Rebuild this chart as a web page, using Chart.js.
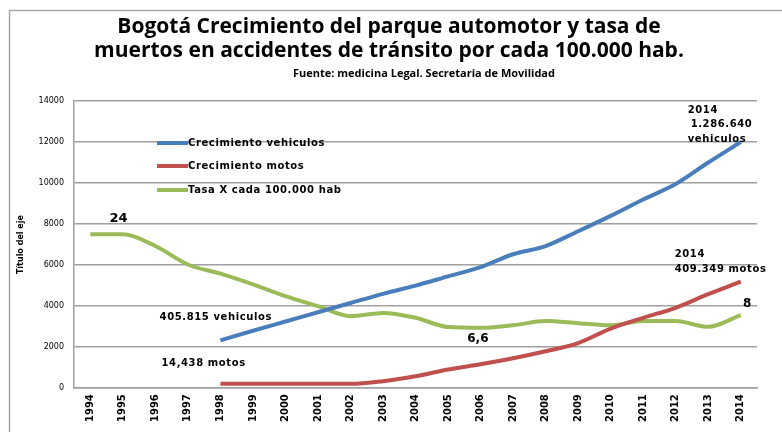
<!DOCTYPE html>
<html>
<head>
<meta charset="utf-8">
<script src="https://cdn.jsdelivr.net/npm/chart.js@4"></script>
<style>
  html, body { margin: 0; padding: 0; background: #fff; }
  #wrap { width: 782px; height: 432px; }
</style>
</head>
<body>
<div id="wrap"><canvas id="chart" width="782" height="432"></canvas></div>
<script>
  // datos
  var years = ['1994', '1995', '1996', '1997', '1998', '1999', '2000', '2001', '2002', '2003', '2004',
    '2005', '2006', '2007', '2008', '2009', '2010', '2011', '2012', '2013', '2014'];

  var vehiculos = [null, null, null, null, 2330, 2800, 3250, 3700, 4150, 4600, 5000,
    5450, 5900, 6530, 6930, 7650, 8400, 9200, 9950, 11000, 12000];

  var motos = [null, null, null, null, 210, 210, 210, 210, 210, 340, 580,
    910, 1170, 1460, 1800, 2200, 2900, 3430, 3920, 4580, 5190];

  var tasa = [7500, 7500, 6930, 6030, 5580, 5060, 4490, 4000, 3510, 3670, 3430,
    2980, 2940, 3070, 3270, 3170, 3070, 3270, 3270, 2990, 3560];

  var seriesNames = ['Crecimiento vehiculos', 'Crecimiento motos', 'Tasa X cada 100.000 hab'];
  var seriesColors = ['#4a7ebb', '#c0504d', '#9bbb59'];

  var yTicks = [0, 2000, 4000, 6000, 8000, 10000, 12000, 14000];

  var titleLines = ['Bogotá Crecimiento del parque automotor y tasa de',
    'muertos en accidentes de tránsito por cada 100.000 hab.'];
  var subtitle = 'Fuente: medicina Legal. Secretaria de Movilidad';

  // notas sobre el grafico: [texto, posicion en años desde 1994, valor de anclaje, tamaño]
  var notes = [
    ['24', 0.59, 8250, 13],
    ['405.815 vehiculos', 2.13, 3460, 10],
    ['14,438 motos', 2.19, 1220, 10],
    ['6,6', 11.59, 2390, 12],
    ['8', 20.07, 4100, 12],
    ['2014', 18.37, 13560, 10],
    ['1.286.640', 18.46, 12880, 10],
    ['vehiculos', 18.37, 12150, 10],
    ['2014', 17.97, 6540, 10],
    ['409.349 motos', 17.97, 5800, 10]
  ];

  var framePlugin = {
    id: 'frame',
    beforeDraw: function (chart) {
      var ctx = chart.ctx;
      ctx.save();
      ctx.fillStyle = '#ffffff';
      ctx.fillRect(0, 0, chart.width, chart.height);
      ctx.strokeStyle = '#a6a6a6';
      ctx.lineWidth = 1.5;
      ctx.strokeRect(9.5, 10.5, chart.width + 20, chart.height + 20);

      // titulo y fuente
      ctx.fillStyle = '#000';
      ctx.textAlign = 'center';
      ctx.textBaseline = 'alphabetic';
      ctx.font = 'bold 21px "Open Sans"';
      ctx.fillText(titleLines[0], 389, 33);
      ctx.fillText(titleLines[1], 389, 57);
      ctx.font = 'bold 11px "Open Sans"';
      ctx.fillText(subtitle, 424, 77);
      ctx.restore();
    }
  };

  var insideLegend = {
    id: 'insideLegend',
    afterDatasetsDraw: function (chart) {
      var ctx = chart.ctx;
      var rows = [143, 166, 190];
      ctx.save();
      ctx.font = 'bold 10px "DejaVu Sans"';
      ctx.letterSpacing = '0.6px';
      ctx.textBaseline = 'middle';
      ctx.fillStyle = '#000';
      seriesNames.forEach(function (name, i) {
        ctx.strokeStyle = seriesColors[i];
        ctx.lineWidth = 4;
        ctx.beginPath();
        ctx.moveTo(157, rows[i]);
        ctx.lineTo(188, rows[i]);
        ctx.stroke();
        ctx.fillText(name, 188, rows[i]);
      });
      ctx.restore();
    }
  };

  var notesPlugin = {
    id: 'notes',
    afterDatasetsDraw: function (chart) {
      var ctx = chart.ctx;
      var xs = chart.scales.x;
      var ys = chart.scales.y;
      var step = xs.getPixelForValue(1) - xs.getPixelForValue(0);
      ctx.save();
      ctx.fillStyle = '#000';
      ctx.textBaseline = 'middle';
      ctx.textAlign = 'left';
      notes.forEach(function (n) {
        var x = xs.getPixelForValue(0) + step * n[1];
        ctx.font = 'bold ' + n[3] + 'px "DejaVu Sans"';
        ctx.letterSpacing = n[3] === 10 ? '0.6px' : '0px';
        ctx.fillText(n[0], x, ys.getPixelForValue(n[2]));
      });
      ctx.restore();
    }
  };

  function line(label, data, color) {
    return {
      label: label,
      data: data,
      borderColor: color,
      backgroundColor: color,
      borderWidth: 4,
      pointRadius: 0,
      cubicInterpolationMode: 'monotone',
      fill: false
    };
  }

  new Chart(document.getElementById('chart'), {
    type: 'line',
    data: {
      labels: years,
      datasets: [
        line(seriesNames[0], vehiculos, seriesColors[0]),
        line(seriesNames[1], motos, seriesColors[1]),
        line(seriesNames[2], tasa, seriesColors[2])
      ]
    },
    options: {
      responsive: false,
      animation: false,
      layout: { padding: { left: 11, right: 25, top: 101, bottom: 4 } },
      plugins: {
        legend: { display: false },
        tooltip: { enabled: false },
        title: { display: false }
      },
      scales: {
        x: {
          offset: true,
          grid: { display: false, drawTicks: false },
          border: { display: true, color: '#a0a0a0', width: 1.5 },
          ticks: {
            color: '#000',
            autoSkip: false,
            minRotation: 90,
            maxRotation: 90,
            padding: 6,
            font: { family: '"DejaVu Sans"', size: 10, weight: 'bold' }
          }
        },
        y: {
          min: 0,
          max: 14000,
          afterBuildTicks: function (axis) {
            axis.ticks = yTicks.map(function (v) { return { value: v }; });
          },
          grid: { color: '#a0a0a0', lineWidth: 1.5, drawTicks: false },
          border: { display: true, color: '#a0a0a0', width: 1.5 },
          ticks: {
            color: '#000',
            padding: 10,
            font: { family: '"DejaVu Sans"', size: 8 },
            callback: function (v) { return String(v); }
          },
          title: {
            display: true,
            text: 'Título del eje',
            color: '#000',
            padding: { top: 5, bottom: 3 },
            font: { family: '"DejaVu Sans"', size: 8, weight: 'bold' }
          }
        }
      }
    },
    plugins: [framePlugin, insideLegend, notesPlugin]
  });
</script>
</body>
</html>
